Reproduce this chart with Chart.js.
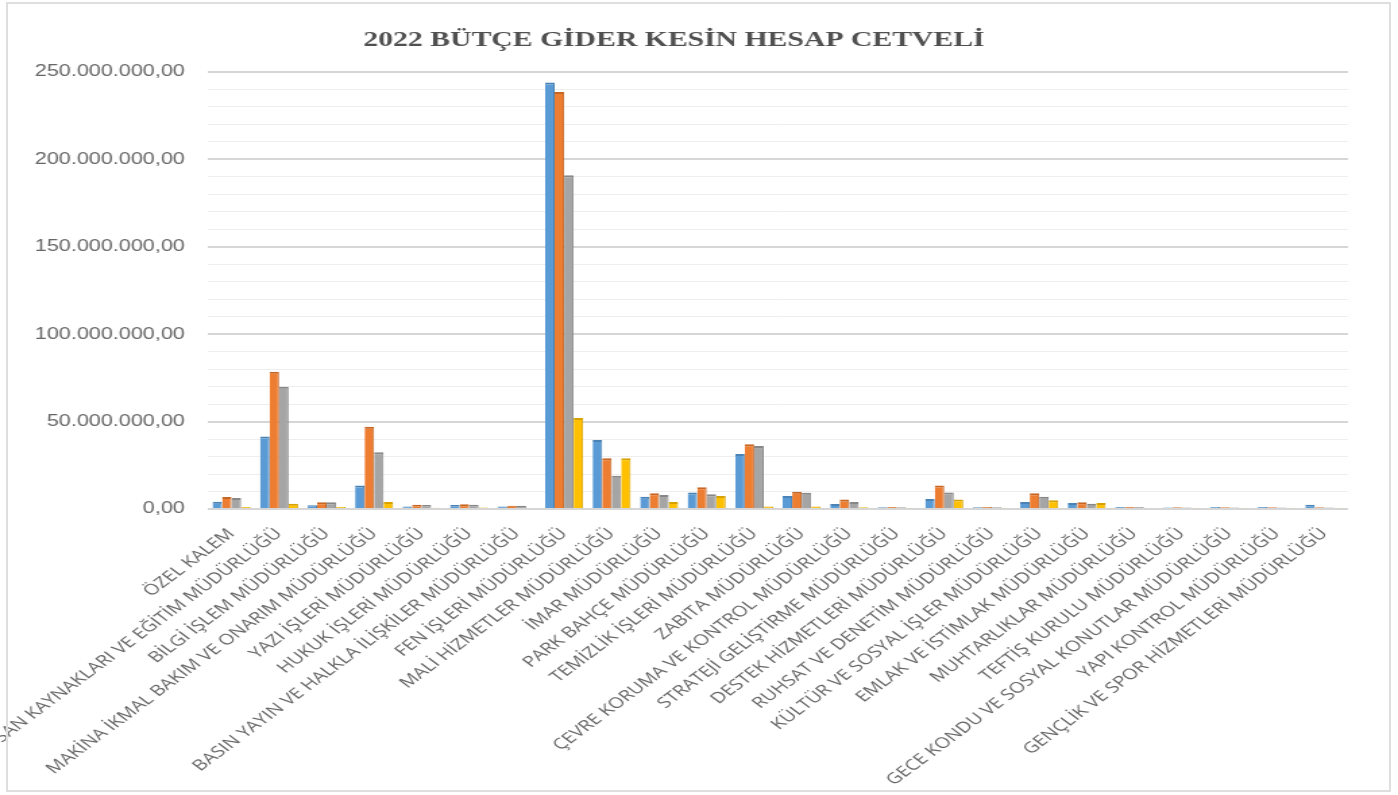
<!DOCTYPE html>
<html lang="tr">
<head>
<meta charset="utf-8">
<title>2022 Bütçe Gider Kesin Hesap Cetveli</title>
<script src="https://cdn.jsdelivr.net/npm/chart.js@4.4.1/dist/chart.umd.min.js"></script>
<style>
    html, body { margin: 0; padding: 0; background: #fff; overflow: hidden; }
    .frame {
        position: absolute;
        left: 6px; top: 2px;
        width: 1385px; height: 790px;
        box-sizing: border-box;
        border: 2px solid #dedede;
        pointer-events: none;
    }
    /* chart is drawn narrow, then widened to the page */
    .chart-wrapper {
        position: absolute;
        left: 0; top: 0;
        transform: scaleX(1.3494);
        transform-origin: 0 0;
    }
</style>
</head>
<body>
<div class="chart-wrapper">
    <canvas id="giderChart" width="1036" height="795"></canvas>
</div>
<div class="frame"></div>

<script>
// müdürlükler
const mudurlukler = [
    "ÖZEL KALEM",
    "İNSAN KAYNAKLARI VE EĞİTİM MÜDÜRLÜĞÜ",
    "BİLGİ İŞLEM MÜDÜRLÜĞÜ",
    "MAKİNA İKMAL BAKIM VE ONARIM MÜDÜRLÜĞÜ",
    "YAZI İŞLERİ MÜDÜRLÜĞÜ",
    "HUKUK İŞLERİ MÜDÜRLÜĞÜ",
    "BASIN YAYIN VE HALKLA İLİŞKİLER MÜDÜRLÜĞÜ",
    "FEN İŞLERİ MÜDÜRLÜĞÜ",
    "MALİ HİZMETLER MÜDÜRLÜĞÜ",
    "İMAR MÜDÜRLÜĞÜ",
    "PARK BAHÇE MÜDÜRLÜĞÜ",
    "TEMİZLİK İŞLERİ MÜDÜRLÜĞÜ",
    "ZABITA MÜDÜRLÜĞÜ",
    "ÇEVRE KORUMA VE KONTROL MÜDÜRLÜĞÜ",
    "STRATEJİ GELİŞTİRME MÜDÜRLÜĞÜ",
    "DESTEK HİZMETLERİ MÜDÜRLÜĞÜ",
    "RUHSAT VE DENETİM MÜDÜRLÜĞÜ",
    "KÜLTÜR VE SOSYAL İŞLER MÜDÜRLÜĞÜ",
    "EMLAK VE İSTİMLAK MÜDÜRLÜĞÜ",
    "MUHTARLIKLAR MÜDÜRLÜĞÜ",
    "TEFTİŞ KURULU MÜDÜRLÜĞÜ",
    "GECE KONDU VE SOSYAL KONUTLAR MÜDÜRLÜĞÜ",
    "YAPI KONTROL MÜDÜRLÜĞÜ",
    "GENÇLİK VE SPOR HİZMETLERİ MÜDÜRLÜĞÜ"
];

// TL
const butceOdenegi = [
    4200000, 41500000, 2200000, 13500000, 1500000, 2300000, 1400000, 244000000,
    39500000, 7000000, 9500000, 31500000, 7500000, 2900000, 1000000, 5700000,
    1000000, 4000000, 3500000, 1100000, 900000, 1100000, 1100000, 2400000
];
const toplamOdenek = [
    6800000, 78500000, 3800000, 47000000, 2400000, 2700000, 1900000, 238500000,
    29000000, 9000000, 12500000, 37000000, 9800000, 5500000, 1100000, 13500000,
    1100000, 9000000, 3800000, 1200000, 1000000, 1000000, 1000000, 1000000
];
const harcama = [
    6300000, 70000000, 3800000, 32500000, 2300000, 2500000, 1800000, 191000000,
    19000000, 8000000, 8500000, 36000000, 9300000, 4000000, 1000000, 9500000,
    1000000, 7000000, 3000000, 1100000, 900000, 900000, 900000, 900000
];
const iptalEdilen = [
    1200000, 3000000, 1200000, 4000000, 700000, 800000, 600000, 52000000,
    29000000, 4000000, 7500000, 1500000, 1500000, 1000000, 500000, 5500000,
    500000, 5000000, 3500000, 600000, 500000, 500000, 500000, 500000
];

// y ekseni
const yMin = 0;
const yMax = 250000000;
const yStep = 10000000;
const etiketAdimi = 50000000;

const renkler = ['#5B9BD5', '#ED7D31', '#A5A5A5', '#FFC000'];
const kenarRenkleri = ['#4a82b4', '#c66625', '#878787', '#d6a200'];

// 250.000.000,00 formatı
const paraFormat = (value) => {
    const [tam, kurus] = Number(value).toFixed(2).split('.');
    return tam.replace(/\B(?=(\d{3})+(?!\d))/g, '.') + ',' + kurus;
};

const seriler = [butceOdenegi, toplamOdenek, harcama, iptalEdilen];
const seriAdlari = ['Bütçe Ödeneği', 'Toplam Ödenek', 'Harcama', 'İptal Edilen'];

const data = {
    labels: mudurlukler,
    datasets: seriler.map((values, i) => ({
        label: seriAdlari[i],
        data: values,
        backgroundColor: renkler[i],
        borderColor: kenarRenkleri[i],
        borderWidth: { top: 2, right: 1, bottom: 0, left: 0 },
        categoryPercentage: 0.8,
        barPercentage: 1.0
    }))
};

const ctx = document.getElementById('giderChart');

new Chart(ctx, {
    type: 'bar',
    data: data,
    options: {
        responsive: false,
        animation: false,
        layout: {
            padding: { left: 0, right: 37, top: 4, bottom: 0 }
        },
        plugins: {
            legend: { display: false },
            tooltip: { enabled: false },
            title: {
                display: true,
                text: '2022 BÜTÇE GİDER KESİN HESAP CETVELİ',
                color: '#505050',
                font: { family: '"Liberation Serif", "Times New Roman", serif', size: 22, weight: 'bold', lineHeight: 1.2 },
                padding: { top: 23, bottom: 18.6 }
            }
        },
        scales: {
            x: {
                grid: { display: false },
                border: { display: false },
                ticks: {
                    autoSkip: false,
                    minRotation: 45,
                    maxRotation: 45,
                    padding: 8,
                    color: '#666666',
                    font: { family: '"Open Sans", sans-serif', size: 15 }
                },
                afterFit: (scale) => {
                    scale.height = 286;
                    scale.paddingLeft = 0;
                    scale.paddingRight = 0;
                }
            },
            y: {
                min: yMin,
                max: yMax,
                border: { display: false },
                grid: {
                    drawTicks: false,
                    color: (c) => (c.tick && c.tick.value % etiketAdimi === 0) ? '#d6d6d6' : '#eeeeee',
                    lineWidth: (c) => (c.tick && c.tick.value % etiketAdimi === 0) ? 2 : 1
                },
                ticks: {
                    stepSize: yStep,
                    autoSkip: false,
                    padding: 17,
                    color: '#666666',
                    font: { family: '"Liberation Sans", Arial, sans-serif', size: 16 },
                    callback: (value) => value % etiketAdimi === 0 ? paraFormat(value) : ''
                },
                afterFit: (scale) => {
                    scale.width = 154;
                }
            }
        }
    }
});
</script>
</body>
</html>
